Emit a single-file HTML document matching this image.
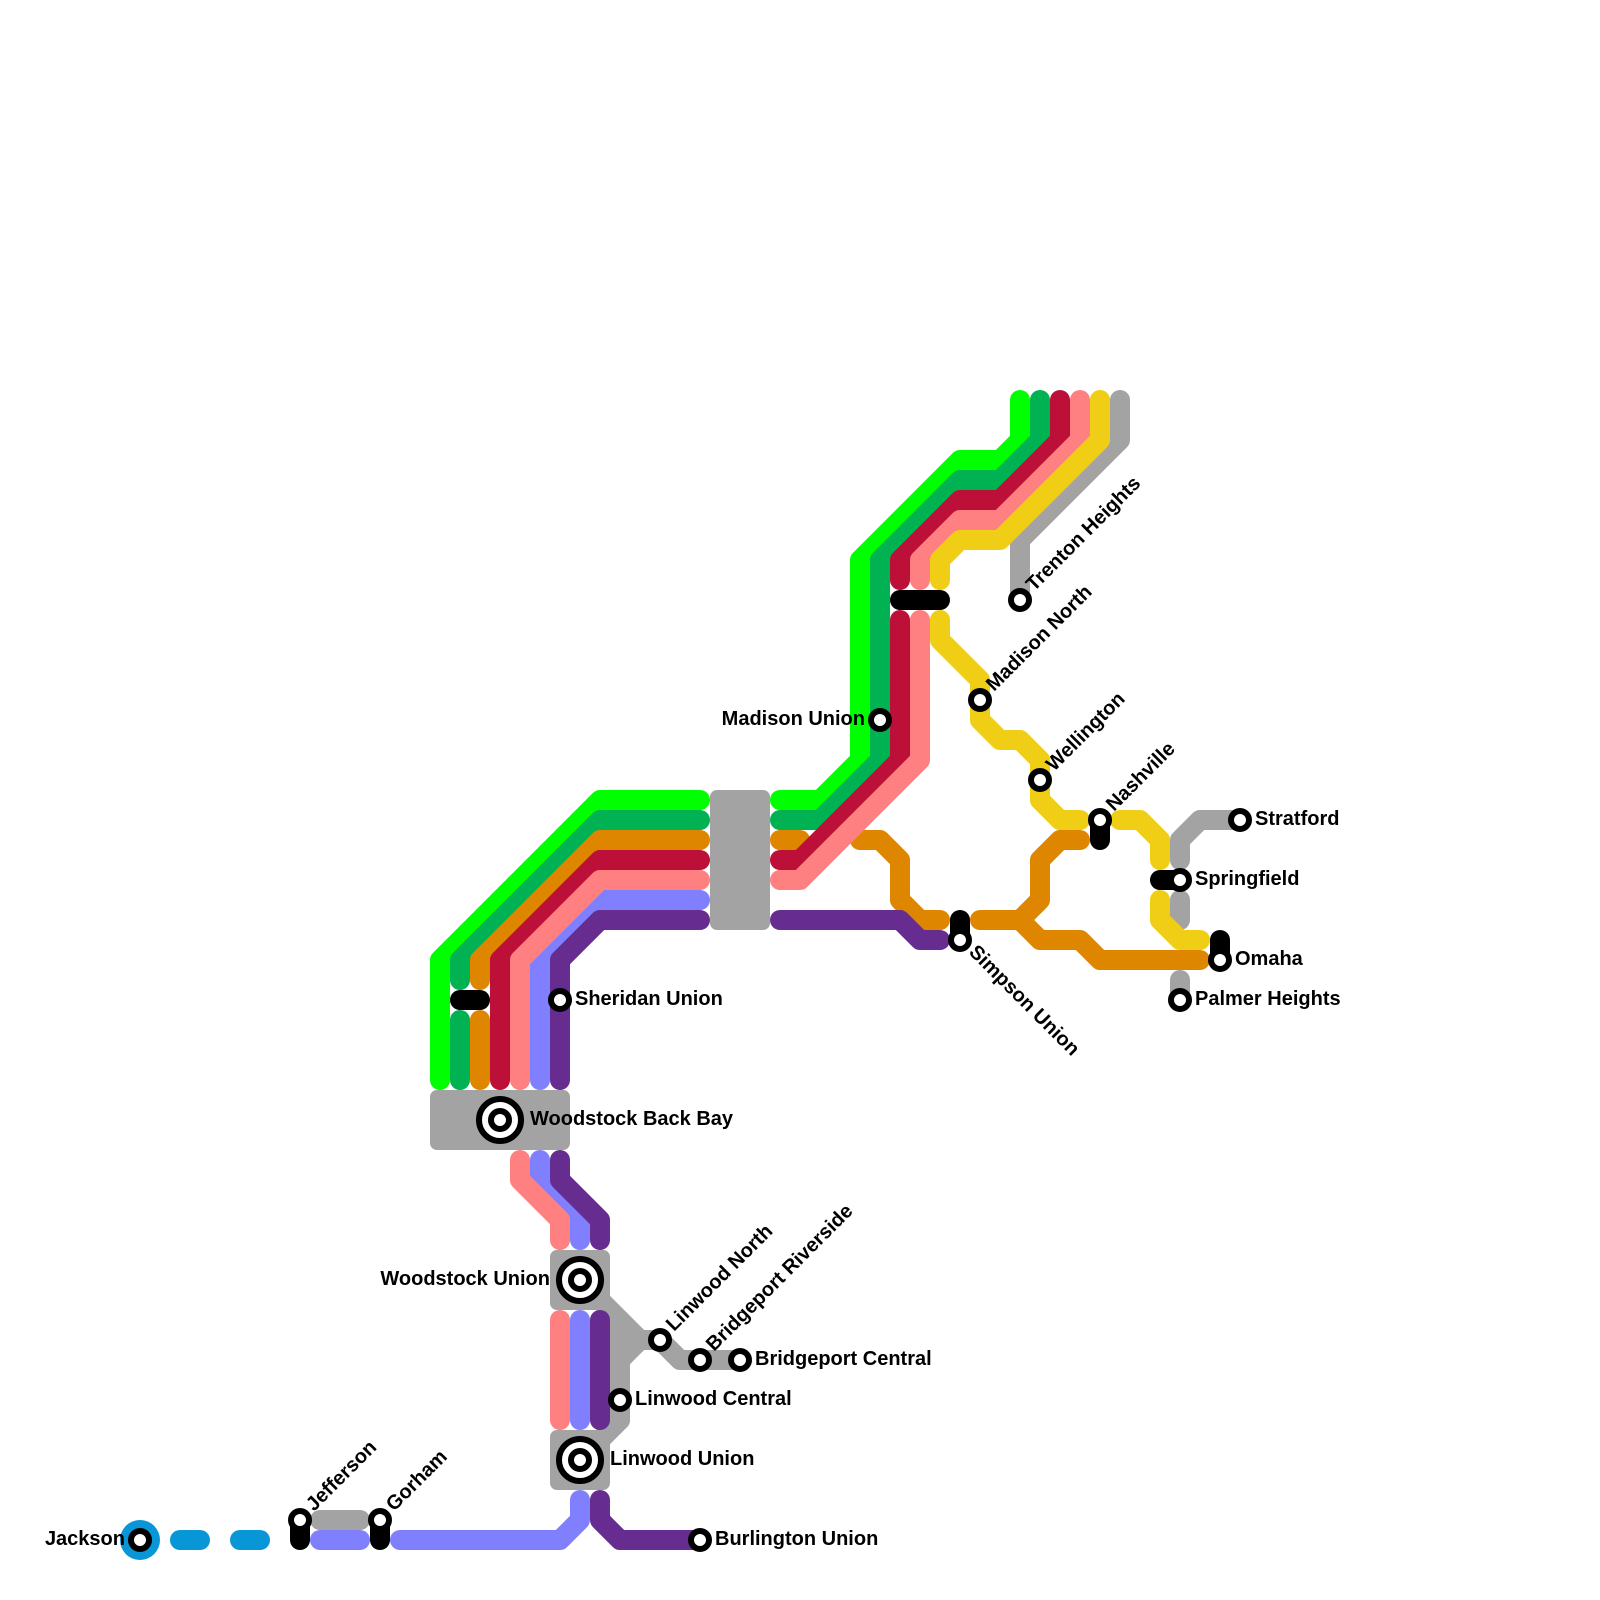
<!DOCTYPE html>
<html>
<head>
<meta charset="utf-8">
<style>
html,body{margin:0;padding:0;background:#fff}
svg{display:block}
text{font-family:"Liberation Sans",sans-serif;font-weight:700;font-size:20px;fill:#000}
polyline{fill:none;stroke-width:20;stroke-linecap:round;stroke-linejoin:round}
.gy{stroke:#a3a3a3}.gr{stroke:#00ff00}.dg{stroke:#00b251}.or{stroke:#df8600}.cr{stroke:#bd1038}
.pk{stroke:#ff8080}.bl{stroke:#8080ff}.pu{stroke:#662c90}.ye{stroke:#f0ce15}.cy{stroke:#0896d7}.bk{stroke:#000}
.s{fill:#fff;stroke:#000;stroke-width:6}
</style>
</head>
<body>
<svg width="1600" height="1600" viewBox="0 0 1600 1600" xmlns="http://www.w3.org/2000/svg">
<!-- gray -->
<polyline class="gy" points="1120,400 1120,440 1020,540 1020,600"/>
<polyline class="gy" points="1240,820 1200,820 1180,840 1180,860"/>
<polyline class="gy" points="1180,900 1180,920"/>
<polyline class="gy" points="1180,980 1180,1000"/>
<polyline class="gy" points="600,1300 640,1340 660,1340 680,1360 740,1360"/>
<polyline class="gy" points="640,1340 620,1360 620,1420 600,1440"/>
<polyline class="gy" points="620,1320 620,1420"/>
<polyline class="gy" points="320,1520 360,1520"/>
<rect x="710" y="790" width="60" height="140" rx="7" fill="#a3a3a3"/>
<rect x="430" y="1090" width="140" height="60" rx="7" fill="#a3a3a3"/>
<rect x="550" y="1250" width="60" height="60" rx="7" fill="#a3a3a3"/>
<rect x="550" y="1430" width="60" height="60" rx="7" fill="#a3a3a3"/>
<!-- left group, in stacking order -->
<polyline class="gr" points="440,1080 440,960 600,800 700,800"/>
<polyline class="dg" points="460,980 460,960 600,820 700,820"/>
<polyline class="dg" points="460,1020 460,1080"/>
<polyline class="or" points="480,980 480,960 600,840 700,840"/>
<polyline class="or" points="480,1020 480,1080"/>
<polyline class="cr" points="500,1080 500,960 600,860 700,860"/>
<polyline class="bl" points="540,1080 540,960 600,900 700,900"/>
<polyline class="pk" points="520,1080 520,960 600,880 700,880"/>
<polyline class="pu" points="560,1080 560,960 600,920 700,920"/>
<!-- orange right -->
<polyline class="or" points="780,840 800,840"/>
<polyline class="or" points="860,840 880,840 900,860 900,900 920,920 940,920"/>
<polyline class="or" points="980,920 1020,920 1040,900 1040,860 1060,840 1080,840"/>
<polyline class="or" points="1020,920 1040,940 1080,940 1100,960 1200,960"/>
<!-- purple right -->
<polyline class="pu" points="780,920 900,920 920,940 940,940"/>
<!-- top-right group -->
<polyline class="gr" points="1020,400 1020,440 1000,460 960,460 860,560 860,760 820,800 780,800"/>
<polyline class="dg" points="1040,400 1040,440 1000,480 960,480 880,560 880,760 820,820 780,820"/>
<polyline class="cr" points="1060,400 1060,440 1000,500 960,500 900,560 900,580"/>
<polyline class="cr" points="900,620 900,760 800,860 780,860"/>
<polyline class="pk" points="1080,400 1080,440 1000,520 960,520 920,560 920,580"/>
<polyline class="pk" points="920,620 920,760 800,880 780,880"/>
<polyline class="ye" points="1100,400 1100,440 1000,540 960,540 940,560 940,580"/>
<polyline class="ye" points="940,620 940,640 980,680 980,720 1000,740 1020,740 1040,760 1040,800 1060,820 1080,820"/>
<polyline class="ye" points="1120,820 1140,820 1160,840 1160,860"/>
<polyline class="ye" points="1160,900 1160,920 1180,940 1200,940"/>
<!-- lower group -->
<polyline class="bl" points="540,1160 540,1180 580,1220 580,1240"/>
<polyline class="pk" points="520,1160 520,1180 560,1220 560,1240"/>
<polyline class="pu" points="560,1160 560,1180 600,1220 600,1240"/>
<polyline class="pk" points="560,1320 560,1420"/>
<polyline class="bl" points="580,1320 580,1420"/>
<polyline class="pu" points="600,1320 600,1420"/>
<polyline class="bl" points="580,1500 580,1520 560,1540 400,1540"/>
<polyline class="pu" points="600,1500 600,1520 620,1540 700,1540"/>
<polyline class="bl" points="320,1540 360,1540"/>
<polyline class="cy" points="180,1540 200,1540"/>
<polyline class="cy" points="240,1540 260,1540"/>
<circle cx="140" cy="1540" r="20" fill="#0896d7"/>
<!-- black connectors -->
<polyline class="bk" points="460,1000 480,1000"/>
<polyline class="bk" points="900,600 940,600"/>
<polyline class="bk" points="960,920 960,940"/>
<polyline class="bk" points="1100,820 1100,840"/>
<polyline class="bk" points="1160,880 1180,880"/>
<polyline class="bk" points="1220,940 1220,960"/>
<polyline class="bk" points="300,1520 300,1540"/>
<polyline class="bk" points="380,1520 380,1540"/>
<!-- stations -->
<circle class="s" cx="560" cy="1000" r="9"/>
<circle class="s" cx="880" cy="720" r="9"/>
<circle class="s" cx="1020" cy="600" r="9"/>
<circle class="s" cx="980" cy="700" r="9"/>
<circle class="s" cx="1040" cy="780" r="9"/>
<circle class="s" cx="1100" cy="820" r="9"/>
<circle class="s" cx="1240" cy="820" r="9"/>
<circle class="s" cx="1180" cy="880" r="9"/>
<circle class="s" cx="1220" cy="960" r="9"/>
<circle class="s" cx="1180" cy="1000" r="9"/>
<circle class="s" cx="960" cy="940" r="9"/>
<circle class="s" cx="660" cy="1340" r="9"/>
<circle class="s" cx="700" cy="1360" r="9"/>
<circle class="s" cx="740" cy="1360" r="9"/>
<circle class="s" cx="620" cy="1400" r="9"/>
<circle class="s" cx="700" cy="1540" r="9"/>
<circle class="s" cx="140" cy="1540" r="9"/>
<circle class="s" cx="300" cy="1520" r="9"/>
<circle class="s" cx="380" cy="1520" r="9"/>
<circle class="s" cx="500" cy="1120" r="21"/><circle class="s" cx="500" cy="1120" r="9"/>
<circle class="s" cx="580" cy="1280" r="21"/><circle class="s" cx="580" cy="1280" r="9"/>
<circle class="s" cx="580" cy="1460" r="21"/><circle class="s" cx="580" cy="1460" r="9"/>
<!-- labels -->
<text x="575" y="1005">Sheridan Union</text>
<text x="530" y="1125">Woodstock Back Bay</text>
<text x="865" y="725" text-anchor="end">Madison Union</text>
<text x="550" y="1285" text-anchor="end">Woodstock Union</text>
<text x="1255" y="825">Stratford</text>
<text x="1195" y="885">Springfield</text>
<text x="1235" y="965">Omaha</text>
<text x="1195" y="1005">Palmer Heights</text>
<text x="755" y="1365">Bridgeport Central</text>
<text x="635" y="1405">Linwood Central</text>
<text x="610" y="1465">Linwood Union</text>
<text x="715" y="1545">Burlington Union</text>
<text x="125" y="1545" text-anchor="end">Jackson</text>
<text transform="translate(1034,592) rotate(-45)">Trenton Heights</text>
<text transform="translate(994,692) rotate(-45)">Madison North</text>
<text transform="translate(1054,772) rotate(-45)">Wellington</text>
<text transform="translate(1114,812) rotate(-45)">Nashville</text>
<text transform="translate(674,1332) rotate(-45)">Linwood North</text>
<text transform="translate(714,1352) rotate(-45)">Bridgeport Riverside</text>
<text transform="translate(314,1512) rotate(-45)">Jefferson</text>
<text transform="translate(394,1512) rotate(-45)">Gorham</text>
<text transform="translate(968,953) rotate(45)">Simpson Union</text>
</svg>
</body>
</html>
